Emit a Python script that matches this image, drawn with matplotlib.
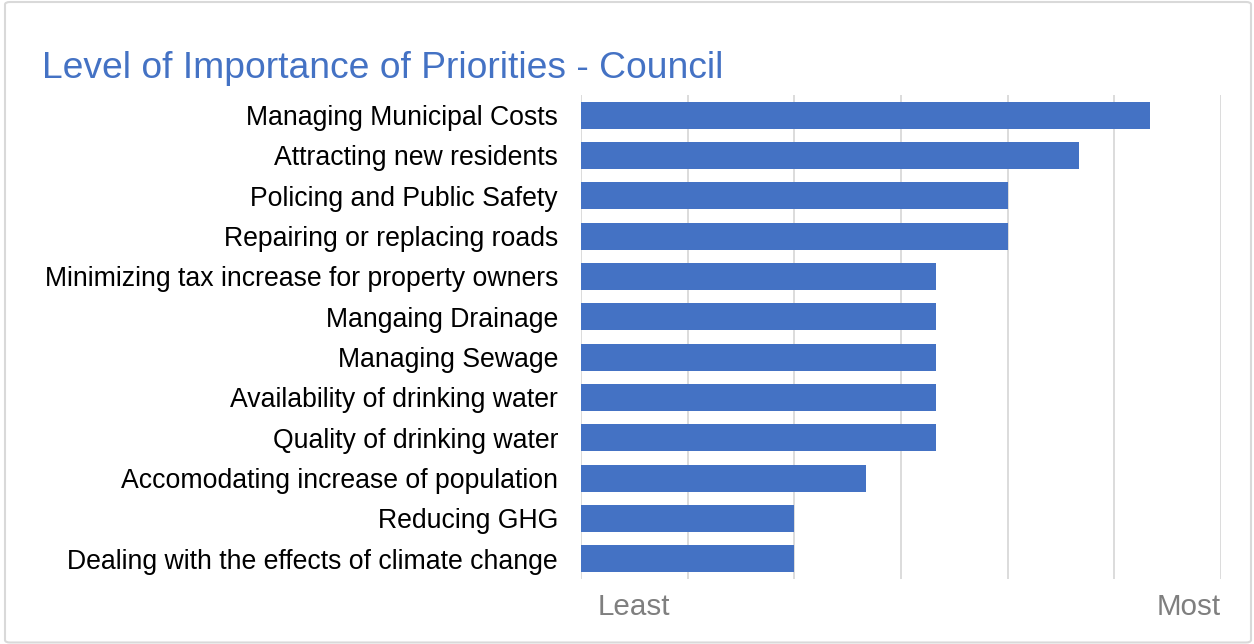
import matplotlib
matplotlib.use("Agg")
import matplotlib.pyplot as plt
from matplotlib.patches import FancyBboxPatch

plt.rcParams['font.family'] = ['Liberation Sans', 'DejaVu Sans']

title = "Level of Importance of Priorities - Council"
categories = [
    "Managing Municipal Costs",
    "Attracting new residents",
    "Policing and Public Safety",
    "Repairing or replacing roads",
    "Minimizing tax increase for property owners",
    "Mangaing Drainage",
    "Managing Sewage",
    "Availability of drinking water",
    "Quality of drinking water",
    "Accomodating increase of population",
    "Reducing GHG",
    "Dealing with the effects of climate change",
]
scores = [5.33, 4.67, 4.0, 4.0, 3.33, 3.33, 3.33, 3.33, 3.33, 2.67, 2.0, 2.0]
scale_labels = ["Least", "Most"]
scale_max = 6

W, H, DPI = 1254, 644, 100
fig = plt.figure(figsize=(W / DPI, H / DPI), dpi=DPI)
fig.patch.set_facecolor("white")

# chart frame
frame = FancyBboxPatch((5 / W, 1.5 / H), (1251 - 5) / W, (642 - 1.5) / H,
                       boxstyle="round,pad=0,rounding_size=0.004",
                       transform=fig.transFigure, facecolor="white",
                       edgecolor="#D9D9D9", linewidth=1.5, zorder=-10)
fig.patches.append(frame)

left, right, top, bottom = 581, 1221, 95, 579
ax = fig.add_axes([left / W, 1 - bottom / H, (right - left) / W, (bottom - top) / H])
ax.set_facecolor("none")

y = list(range(len(categories)))
ax.barh(y, scores, height=0.67, color="#4472C4", zorder=3)
ax.set_ylim(len(categories) - 0.5, -0.5)
ax.set_xlim(0, scale_max)

ax.set_yticks(y)
ax.set_yticklabels(categories, fontsize=19.2, color="black")
ax.tick_params(axis="y", length=0, pad=16.5)

ax.set_xticks(range(scale_max + 1))
ax.set_xticklabels([])
ax.tick_params(axis="x", length=0)
ax.grid(axis="x", color="#D9D9D9", linewidth=1.3, zorder=0)
for s in ax.spines.values():
    s.set_visible(False)

ax.text(0.5, -0.028, scale_labels[0], transform=ax.get_xaxis_transform(),
        ha="center", va="top", fontsize=21.3, color="#7F7F7F")
ax.text(scale_max, -0.028, scale_labels[1], transform=ax.get_xaxis_transform(),
        ha="right", va="top", fontsize=21.3, color="#7F7F7F")

fig.text(42 / W, 1 - 78 / H, title, ha="left", va="baseline",
         fontsize=26.8, color="#4472C4")

fig.savefig("out.png", dpi=DPI)
